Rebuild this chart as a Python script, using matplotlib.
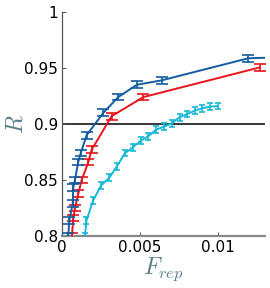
import matplotlib
matplotlib.use("Agg")
import matplotlib.pyplot as plt

# Blue series
blue_F = [0.00040, 0.00047, 0.00069, 0.00072, 0.00083, 0.00104, 0.00120, 0.00158,
          0.00265, 0.00360, 0.00479, 0.00639, 0.01194, 0.01400]
blue_R = [0.800, 0.814, 0.829, 0.843, 0.850, 0.866, 0.874, 0.890,
          0.910, 0.924, 0.935, 0.939, 0.9587, 0.9595]
blue_E = [0.003] * len(blue_F)

# Red series
red_F = [0.00063, 0.00073, 0.00083, 0.00105, 0.00126, 0.00169, 0.00190,
         0.00318, 0.00521, 0.01269]
red_R = [0.800, 0.816, 0.825, 0.838, 0.850, 0.866, 0.877,
         0.907, 0.924, 0.9506]
red_E = [0.003] * len(red_F)

# Cyan series
cyan_F = [0.00147, 0.00157, 0.00201, 0.00250, 0.00303, 0.00351, 0.00404, 0.00453,
          0.00504, 0.00553, 0.00603, 0.00651, 0.00702, 0.00753, 0.00804, 0.00853,
          0.00897, 0.00949, 0.00998]
cyan_R = [0.800, 0.814, 0.832, 0.845, 0.852, 0.862, 0.874, 0.879,
          0.885, 0.889, 0.895, 0.8975, 0.9005, 0.906, 0.909, 0.912,
          0.914, 0.9155, 0.916]
cyan_E = [0.003] * len(cyan_F)

x_ticks = [0, 0.005, 0.01]
x_labels = ["0", "0.005", "0.01"]
y_ticks = [0.8, 0.85, 0.9, 0.95, 1.0]
y_labels = ["0.8", "0.85", "0.9", "0.95", "1"]

plt.rcParams['mathtext.fontset'] = 'cm'
fig = plt.figure(figsize=(2.7, 2.88), dpi=100)
ax = fig.add_axes([0.2296, 0.1806, 0.7514, 0.7777])

blue = '#135c9f'
red = '#e8141b'
cyan = '#17b9d6'

ax.axhline(0.9, color='black', lw=1.1, zorder=1)
ax.errorbar(cyan_F, cyan_R, yerr=cyan_E, color=cyan, lw=1.4, elinewidth=1.2,
            capsize=2.5, capthick=1.2, zorder=3)
ax.errorbar(red_F, red_R, yerr=red_E, color=red, lw=1.4, elinewidth=1.2,
            capsize=4.5, capthick=1.2, zorder=4)
ax.errorbar(blue_F, blue_R, yerr=blue_E, color=blue, lw=1.4, elinewidth=1.2,
            capsize=4.5, capthick=1.2, zorder=5)

ax.set_xlim(0, 0.013)
ax.set_ylim(0.8, 1.0)
ax.set_xticks(x_ticks)
ax.set_xticklabels(x_labels)
ax.set_yticks(y_ticks)
ax.set_yticklabels(y_labels)
ax.tick_params(direction='in', labelsize=11, length=3, color='#555555', pad=3)
for s in ['top', 'right']:
    ax.spines[s].set_visible(False)
ax.spines['left'].set_color('#555555')
ax.spines['left'].set_linewidth(0.9)
ax.spines['bottom'].set_color('#888888')
ax.spines['bottom'].set_linewidth(1.6)

lab_col = '#5b7d87'
ax.set_xlabel(r'$F_{rep}$', fontsize=17, color=lab_col, labelpad=0)
ax.set_ylabel(r'$R$', fontsize=17, color=lab_col)
ax.yaxis.set_label_coords(-0.17, 0.5)

fig.savefig('out.png', dpi=100)
